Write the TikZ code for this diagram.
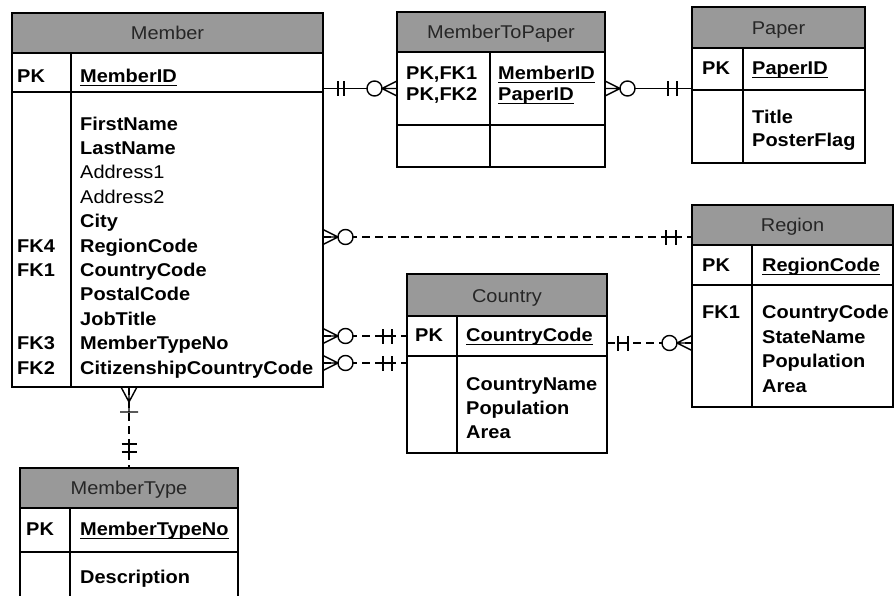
\documentclass[tikz,border=0pt]{standalone}
\usepackage{fontspec}
\setmainfont{Liberation Sans}
\newfontfamily\erfont[FakeStretch=1.08]{Liberation Sans}
\usetikzlibrary{fit,calc}

% underlined key column
\newcommand\keyline[1]{\setbox0\hbox{#1}\rlap{\rule[-4pt]{\wd0}{1.3pt}}\box0}

\newcounter{fld}
\newcommand\fld[3]{\stepcounter{fld}\node[fb] (f\thefld) at (#1,#2) {#3};}
\newcommand\fldr[3]{\stepcounter{fld}\node[fr] (f\thefld) at (#1,#2) {#3};}

% entity box: name, left, right, divider, top, header bottom, key bottom, bottom, title
\newcommand\ertable[9]{%
  \node[frame, fit={(#2,#5) (#3,#8)}] (#1) {};
  \node[hdr, fit={(#2,#5) (#3,#6)}] (#1-head) {};
  \node[frame, fit={(#2,#6) (#3,#7)}] (#1-pk) {};
  \node[frame, fit={(#2,#7) (#3,#8)}] (#1-body) {};
  \draw[line width=1.4pt] (#4,#6) -- (#4,#8);
  \node[ttl] (#1-title) at ($(#1-head.south)+(0,-14)$) {#9};
}

\tikzset{
  frame/.style={draw, line width=1.4pt, inner sep=0pt, outer sep=0pt},
  hdr/.style={frame, fill=black!40},
  ttl/.style={anchor=base, inner sep=0pt, font=\erfont\fontsize{18.5}{20}\selectfont, text=black!85},
  fb/.style={anchor=base west, inner sep=0pt, font=\erfont\bfseries\fontsize{18.5}{20}\selectfont},
  fr/.style={anchor=base west, inner sep=0pt, font=\erfont\fontsize{18.5}{20}\selectfont},
  link/.style={line width=1.4pt},
  dlink/.style={link, dash pattern=on 8pt off 5pt},
  % crow's foot with ring: zero or many
  pics/zeromany/.style={code={
    \draw[line width=1.4pt] (0,-7.5) -- (15,0) -- (0,7.5) (0,0) -- (15,0);
    \draw[line width=1.4pt, fill=white] (22.5,0) circle (7.5pt);
  }},
  % crow's foot with bar: one or many
  pics/onemany/.style={code={
    \draw[line width=1.4pt] (0,-8) -- (15,0) -- (0,8) (0,0) -- (25,0) (25,-9) -- (25,9);
  }},
  % double bar: exactly one
  pics/oneone/.style 2 args={code={
    \draw[line width=1.4pt] (#1,0) -- (#1+#2,0) (#1,-7.5) -- (#1,7.5) (#1+#2,-7.5) -- (#1+#2,7.5);
  }},
}

\begin{document}
\begin{tikzpicture}[x=1pt, y=-1pt]
\clip (0,0) rectangle (895,595);
\fill[white] (0,0) rectangle (895,595);

\ertable{member}{12}{323}{71}{13}{53}{92}{387}{Member}
\ertable{m2p}{397}{605}{490}{12}{52}{125}{167}{MemberToPaper}
\ertable{paper}{692}{865}{743}{7}{48}{90}{163}{Paper}
\ertable{region}{692}{893}{752}{205}{245}{285}{407}{Region}
\ertable{country}{407}{607}{457}{274}{316}{356}{453}{Country}
\ertable{mtype}{20}{238}{70}{468}{508}{552}{610}{MemberType}

% Member
\fld{17}{82}{PK}
\fld{80}{82}{\keyline{MemberID}}
\fld{80}{130}{FirstName}
\fld{80}{154.4}{LastName}
\fldr{80}{178.8}{Address1}
\fldr{80}{203.2}{Address2}
\fld{80}{227.6}{City}
\fld{17}{252}{FK4}
\fld{80}{252}{RegionCode}
\fld{17}{276.4}{FK1}
\fld{80}{276.4}{CountryCode}
\fld{80}{300.8}{PostalCode}
\fld{80}{325.2}{JobTitle}
\fld{17}{349.6}{FK3}
\fld{80}{349.6}{MemberTypeNo}
\fld{17}{374}{FK2}
\fld{80}{374}{CitizenshipCountryCode}

% MemberToPaper
\fld{406}{79}{PK,FK1}
\fld{406}{100}{PK,FK2}
\fld{498}{79}{\keyline{MemberID}}
\fld{498}{100}{\keyline{PaperID}}

% Paper
\fld{702}{74}{PK}
\fld{752}{74}{\keyline{PaperID}}
\fld{752}{123}{Title}
\fld{752}{146}{PosterFlag}

% Region
\fld{702}{271}{PK}
\fld{762}{271}{\keyline{RegionCode}}
\fld{702}{318}{FK1}
\fld{762}{318}{CountryCode}
\fld{762}{343}{StateName}
\fld{762}{367}{Population}
\fld{762}{392}{Area}

% Country
\fld{415}{341}{PK}
\fld{466}{341}{\keyline{CountryCode}}
\fld{466}{390}{CountryName}
\fld{466}{414}{Population}
\fld{466}{438}{Area}

% MemberType
\fld{26}{535}{PK}
\fld{80}{535}{\keyline{MemberTypeNo}}
\fld{80}{583}{Description}

% Member -- MemberToPaper
\draw[link] (member.east |- m2p-pk.west) -- (m2p-pk.west);
\pic at (member.east |- m2p-pk.west) {oneone={15}{6}};
\pic[rotate=180] at (m2p-pk.west) {zeromany};

% MemberToPaper -- Paper
\draw[link] (m2p-pk.east) -- (paper.west |- m2p-pk.east);
\pic at (m2p-pk.east) {zeromany};
\pic[rotate=180] at (paper.west |- m2p-pk.east) {oneone={15}{9}};

% Member -- Region
\coordinate (rg-in) at ($(region.north west)+(0,32)$);
\draw[dlink] (member.east |- rg-in) -- (rg-in);
\pic at (member.east |- rg-in) {zeromany};
\pic[rotate=180] at (rg-in) {oneone={16}{10}};

% Member -- Country (CountryCode)
\draw[dlink] (member.east |- country-pk.west) -- (country-pk.west);
\pic at (member.east |- country-pk.west) {zeromany};
\pic[rotate=180] at (country-pk.west) {oneone={15}{9}};

% Member -- Country (CitizenshipCountryCode)
\coordinate (ct-in) at ($(country-pk.south west)+(0,7)$);
\draw[dlink] (member.east |- ct-in) -- (ct-in);
\pic at (member.east |- ct-in) {zeromany};
\pic[rotate=180] at (ct-in) {oneone={15}{9}};

% Country -- Region
\coordinate (cr-out) at ($(country-pk.east)+(0,7)$);
\draw[dlink] (cr-out) -- (region.west |- cr-out);
\pic at (cr-out) {oneone={11}{10}};
\pic[rotate=180] at (region.west |- cr-out) {zeromany};

% Member -- MemberType
\draw[dlink] (member.south -| mtype.north) -- (mtype.north);
\pic[rotate=-90] at (member.south -| mtype.north) {onemany};
\pic[rotate=90] at (mtype.north) {oneone={16}{8}};
\end{tikzpicture}
\end{document}
